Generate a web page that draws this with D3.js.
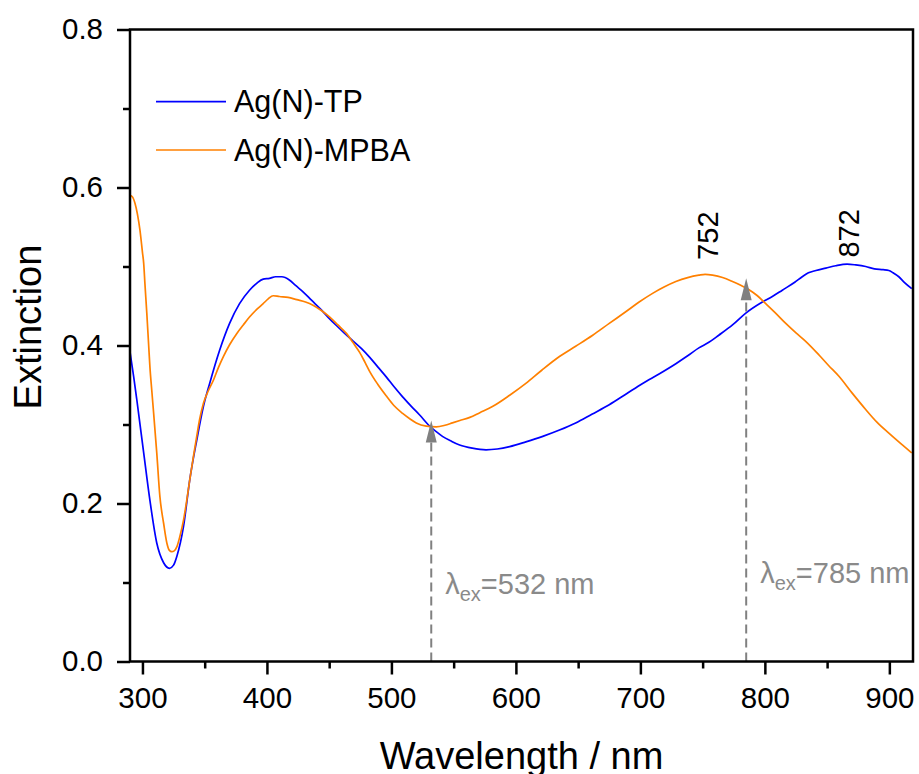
<!DOCTYPE html>
<html>
<head>
<meta charset="utf-8">
<script src="https://cdn.jsdelivr.net/npm/d3@7"></script>
<style>
  html, body { margin: 0; padding: 0; background: #fff; }
  svg { display: block; }
  text { font-family: "Liberation Sans", Arial, sans-serif; }
</style>
</head>
<body>
<svg id="chart" width="919" height="774"></svg>
<script>
// ---------- DATA ----------
const tpWavelength = [290,293,295.5,301,306,311.5,317,321.7,325,327.6,333,338,343.6,349,354,362,370,378,386,392,397,402,407,412,418,423,429,436,442.5,449,456,462,469,476,482.6,489,496,502,509,516,522.7,530.7,536,541,548,554.8,565,576,585,595,608,621.6,635,648,661,675,688,701.8,715,728.5,738,747,755,763,774,784.7,798,806,814,824,830,835,841,849,857,866,873,881,888,895,899.6,903,907.6,912,918];
const tpExtinction = [0.392,0.36,0.331,0.264,0.204,0.150,0.125,0.118,0.122,0.133,0.171,0.230,0.280,0.323,0.352,0.394,0.428,0.453,0.470,0.479,0.484,0.485,0.487,0.487,0.483,0.476,0.468,0.457,0.447,0.436,0.425,0.416,0.406,0.396,0.385,0.373,0.360,0.348,0.335,0.323,0.312,0.298,0.291,0.285,0.279,0.274,0.270,0.268,0.269,0.272,0.278,0.285,0.293,0.302,0.313,0.325,0.338,0.352,0.364,0.377,0.387,0.397,0.404,0.413,0.426,0.441,0.455,0.462,0.470,0.480,0.487,0.492,0.495,0.498,0.501,0.503,0.502,0.500,0.497,0.496,0.495,0.492,0.487,0.480,0.472];

const mpbaWavelength = [290,292,294,296,298,300,301,302,303.5,305,306,307.5,309,311.5,314,317,319.6,321.5,323.6,325.5,327.6,330,333,335.5,338,341,343.6,346,349,353,357,361,365,370,375.7,381,386,392,397,401,405,410,417,424,431,437,444,450.5,457,464,469,474.6,479,482.6,489,496,502,509,515,520,528,536,543,549,555,563,571,581.5,595,608,621,635,648,661.7,675,688.5,699,709.8,719,728.5,738,747,752,758,766,774,781,787,794,800.7,808,816.8,825,833,843.5,851,859.5,870,881,890,899.6,909,918];
const mpbaExtinction = [0.590,0.588,0.580,0.566,0.546,0.518,0.504,0.478,0.441,0.400,0.373,0.343,0.314,0.264,0.209,0.175,0.150,0.141,0.139,0.140,0.145,0.158,0.179,0.203,0.230,0.260,0.285,0.307,0.327,0.343,0.356,0.372,0.386,0.401,0.415,0.426,0.436,0.446,0.453,0.459,0.463,0.462,0.461,0.458,0.455,0.451,0.444,0.436,0.426,0.415,0.404,0.391,0.378,0.367,0.351,0.336,0.324,0.314,0.307,0.302,0.298,0.297,0.299,0.302,0.305,0.309,0.315,0.323,0.337,0.352,0.369,0.386,0.399,0.413,0.428,0.443,0.455,0.466,0.474,0.481,0.486,0.489,0.490,0.489,0.486,0.481,0.476,0.471,0.463,0.453,0.442,0.428,0.416,0.405,0.388,0.375,0.361,0.340,0.319,0.303,0.289,0.276,0.264];

const seriesNames = ["Ag(N)-TP", "Ag(N)-MPBA"];
const seriesColors = ["#0000ff", "#ff8000"];

const xMajorTicks = [300,400,500,600,700,800,900];
const xMinorTicks = [350,450,550,650,750,850];
const yMajorTicks = [0.0,0.2,0.4,0.6,0.8];
const yMinorTicks = [0.1,0.3,0.5,0.7];

const peakLabels = ["752", "872"];
const peakWavelengths = [752, 872];
const peakLabelValues = [0.539, 0.542];

const excitationWavelengths = [532, 785];
const excitationTargets = [0.305, 0.485];
const excitationLabels = ["532 nm", "785 nm"];
const excitationLabelValues = [0.086, 0.1];

// ---------- LAYOUT ----------
const svg = d3.select("#chart");
const L = 130, R = 913, T = 29.5, B = 661.5;
const x = d3.scaleLinear().domain([290, 919]).range([L, R]);
const y = d3.scaleLinear().domain([0, 0.8]).range([B, T]);
const AX_W = 2.5;
const FONT = '"Liberation Sans", Arial, sans-serif';

svg.append("defs").append("clipPath").attr("id", "plotclip")
  .append("rect").attr("x", L).attr("y", T).attr("width", R - L).attr("height", B - T);

// curves
const line = d3.line().x(d => x(d[0])).y(d => y(d[1])).curve(d3.curveMonotoneX);
const seriesData = [
  d3.zip(tpWavelength, tpExtinction),
  d3.zip(mpbaWavelength, mpbaExtinction)
];
const curves = svg.append("g").attr("clip-path", "url(#plotclip)");
seriesData.forEach((d, i) => {
  curves.append("path").datum(d)
    .attr("d", line)
    .attr("fill", "none")
    .attr("stroke", seriesColors[i])
    .attr("stroke-width", 1.7)
    .attr("stroke-linejoin", "round");
});

// excitation arrows
const gray = "#808080";
excitationWavelengths.forEach((w, i) => {
  const xp = x(w);
  const tip = y(excitationTargets[i]);
  const headH = 22, headW = 11;
  svg.append("line")
    .attr("x1", xp).attr("x2", xp)
    .attr("y1", B).attr("y2", tip + headH - 2)
    .attr("stroke", gray).attr("stroke-width", 2)
    .attr("stroke-dasharray", "9,5");
  svg.append("path")
    .attr("d", `M${xp},${tip} L${xp - headW / 2},${tip + headH} L${xp + headW / 2},${tip + headH} Z`)
    .attr("fill", gray);
  const t = svg.append("text")
    .attr("x", xp + 14)
    .attr("y", y(excitationLabelValues[i]))
    .attr("fill", "#8a8a8a")
    .attr("font-size", 29)
    .attr("font-family", FONT);
  t.append("tspan").text("λ");
  t.append("tspan").attr("font-size", 20).attr("dy", 7).text("ex");
  t.append("tspan").attr("dy", -7).text("=" + excitationLabels[i]);
});

// peak labels
peakLabels.forEach((lab, i) => {
  const xp = x(peakWavelengths[i]);
  const yp = y(peakLabelValues[i]);
  svg.append("text")
    .attr("transform", `translate(${xp + (i === 0 ? 2 : -6)},${yp}) rotate(-90)`)
    .attr("text-anchor", "middle")
    .attr("dy", "0.36em")
    .attr("font-size", 29)
    .attr("font-family", FONT)
    .attr("fill", "#000")
    .text(lab);
});

// axes
function styleAxis(g) {
  g.select(".domain").remove();
  g.selectAll(".tick line").attr("stroke", "#000").attr("stroke-width", AX_W);
  g.selectAll(".tick text").attr("font-size", 29.5).attr("font-family", FONT).attr("fill", "#000");
}
const gx = svg.append("g").attr("transform", `translate(0,${B})`)
  .call(d3.axisBottom(x).tickValues(xMajorTicks).tickSize(13).tickPadding(13).tickFormat(d3.format("d")));
styleAxis(gx);
const gxm = svg.append("g").attr("transform", `translate(0,${B})`)
  .call(d3.axisBottom(x).tickValues(xMinorTicks).tickSize(7).tickFormat(""));
styleAxis(gxm);
const gy = svg.append("g").attr("transform", `translate(${L},0)`)
  .call(d3.axisLeft(y).tickValues(yMajorTicks).tickSize(13).tickPadding(14).tickFormat(d3.format(".1f")));
styleAxis(gy);
const gym = svg.append("g").attr("transform", `translate(${L},0)`)
  .call(d3.axisLeft(y).tickValues(yMinorTicks).tickSize(7).tickFormat(""));
styleAxis(gym);

// frame
svg.append("rect")
  .attr("x", L).attr("y", T).attr("width", R - L).attr("height", B - T)
  .attr("fill", "none").attr("stroke", "#000").attr("stroke-width", AX_W);

// axis titles
svg.append("text")
  .attr("x", (L + R) / 2).attr("y", 769)
  .attr("text-anchor", "middle")
  .attr("font-size", 38).attr("font-family", FONT)
  .text("Wavelength / nm");
svg.append("text")
  .attr("transform", `translate(41,327) rotate(-90)`)
  .attr("text-anchor", "middle")
  .attr("font-size", 38).attr("font-family", FONT)
  .text("Extinction");

// legend
const legendY = [101.7, 150];
seriesNames.forEach((name, i) => {
  svg.append("line")
    .attr("x1", 156).attr("x2", 226)
    .attr("y1", legendY[i]).attr("y2", legendY[i])
    .attr("stroke", seriesColors[i]).attr("stroke-width", 1.7);
  svg.append("text")
    .attr("x", 234).attr("y", legendY[i] + 10.5)
    .attr("font-size", 30.5).attr("font-family", FONT)
    .text(name);
});
</script>
</body>
</html>
